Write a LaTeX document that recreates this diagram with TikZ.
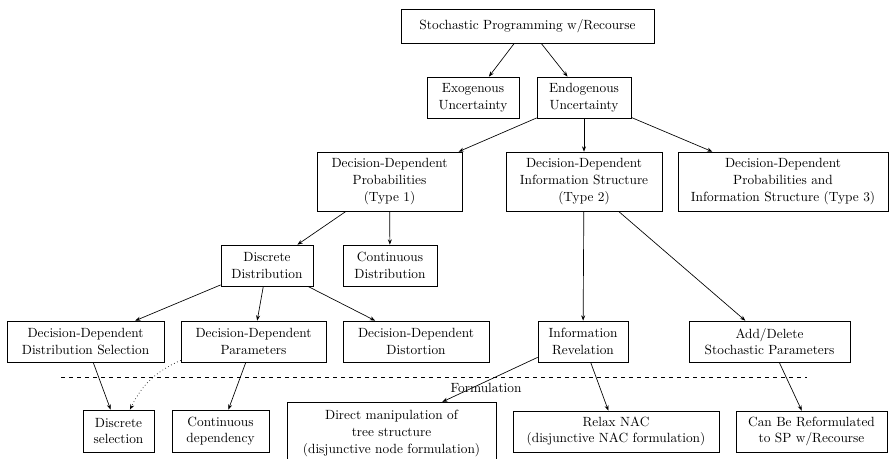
\documentclass[tikz,border=0pt]{standalone}
\usetikzlibrary{arrows.meta,calc}
\begin{document}
\begin{tikzpicture}[x=0.75pt,y=-0.75pt,
  box/.style={draw, line width=0.5pt, align=center, inner sep=0pt, font=\fontsize{10}{12.5}\selectfont},
  arr/.style={-{Stealth[length=4pt,width=3pt]}, line width=0.5pt},
  lbl/.style={font=\fontsize{10}{12.5}\selectfont, inner sep=0pt}]
\useasboundingbox (0,0) rectangle (889,458);
\clip (0,0) rectangle (889,458);
% row 1
\node[box, minimum width=189.75pt, minimum height=25.5pt] (top) at (527.5,26) {Stochastic Programming w/Recourse};
% row 2
\node[box, minimum width=69pt, minimum height=30.75pt] (exo) at (473,97.5) {Exogenous\\Uncertainty};
\node[box, minimum width=70.5pt, minimum height=30.75pt] (endo) at (584,97.5) {Endogenous\\Uncertainty};
% row 3
\node[box, minimum width=108.75pt, minimum height=44.25pt] (ddp) at (389.5,181.5) {Decision-Dependent\\Probabilities\\(Type 1)};
\node[box, minimum width=117pt, minimum height=44.25pt] (ddis) at (584,181.5) {Decision-Dependent\\Information Structure\\(Type 2)};
\node[box, minimum width=157.5pt, minimum height=44.25pt] (type3) at (783,181.5) {Decision-Dependent\\Probabilities and\\Information Structure (Type 3)};
% row 4
\node[box, minimum width=69pt, minimum height=30.75pt] (disc) at (267,265.5) {Discrete\\Distribution};
\node[box, minimum width=70.5pt, minimum height=30.75pt] (cont) at (390,265.5) {Continuous\\Distribution};
% row 5
\node[box, minimum width=117.75pt, minimum height=30.75pt] (ddsel) at (85.5,341.5) {Decision-Dependent\\Distribution Selection};
\node[box, minimum width=108.75pt, minimum height=30.75pt] (ddpar) at (253.5,341.5) {Decision-Dependent\\Parameters};
\node[box, minimum width=109.5pt, minimum height=30.75pt] (ddist) at (416,341.5) {Decision-Dependent\\Distortion};
\node[box, minimum width=67.5pt, minimum height=30.75pt] (inforev) at (583,341.5) {Information\\Revelation};
\node[box, minimum width=120.75pt, minimum height=30.75pt] (adddel) at (769.5,341.5) {Add/Delete\\Stochastic Parameters};
% formulation row
\node[box, minimum width=53.25pt, minimum height=31.5pt] (dsel) at (118.5,431) {Discrete\\selection};
\node[box, minimum width=72.75pt, minimum height=31.5pt] (cdep) at (220.5,431) {Continuous\\dependency};
\node[box, minimum width=156.75pt, minimum height=47pt] (direct) at (391.5,433.5) {Direct manipulation of\\tree structure\\(disjunctive node formulation)};
\node[box, minimum width=154.5pt, minimum height=30.75pt] (relax) at (616,431.5) {Relax NAC\\(disjunctive NAC formulation)};
\node[box, minimum width=113.25pt, minimum height=30.75pt] (reform) at (811.5,431.5) {Can Be Reformulated\\to SP w/Recourse};
% separator
\coordinate (dl) at (61,377);
\coordinate (dr) at (807,377);
\draw[dashed, line width=0.5pt] (dl) -- (dr);
\node[lbl] (form) at (486,388) {Formulation};
% connectors
\draw[arr] (top) -- (exo);
\draw[arr] (top) -- (endo);
\draw[arr] (endo) -- (ddp);
\draw[arr] (endo) -- (ddis);
\draw[arr] (endo) -- (type3);
\draw[arr] (ddp) -- (disc);
\draw[arr] (ddp) -- (cont);
\draw[arr] (disc) -- (ddsel);
\draw[arr] (disc) -- (ddpar);
\draw[arr] (disc) -- (ddist);
\draw[arr] (ddis) -- (inforev);
\draw[arr] (ddis) -- (adddel);
\draw[arr] (ddsel) -- (dsel);
\draw[arr] (ddpar) -- (cdep);
\draw[arr, dotted] ([yshift=1.5pt]ddpar.south west) to[bend right=20] ([xshift=8.6pt]dsel.north);
\draw[arr] ([yshift=3.75pt]inforev.south west) -- ([xshift=-40.5pt]direct.north east);
\draw[arr] (inforev) -- (relax);
\draw[arr] (adddel) -- (reform);
\end{tikzpicture}
\end{document}
